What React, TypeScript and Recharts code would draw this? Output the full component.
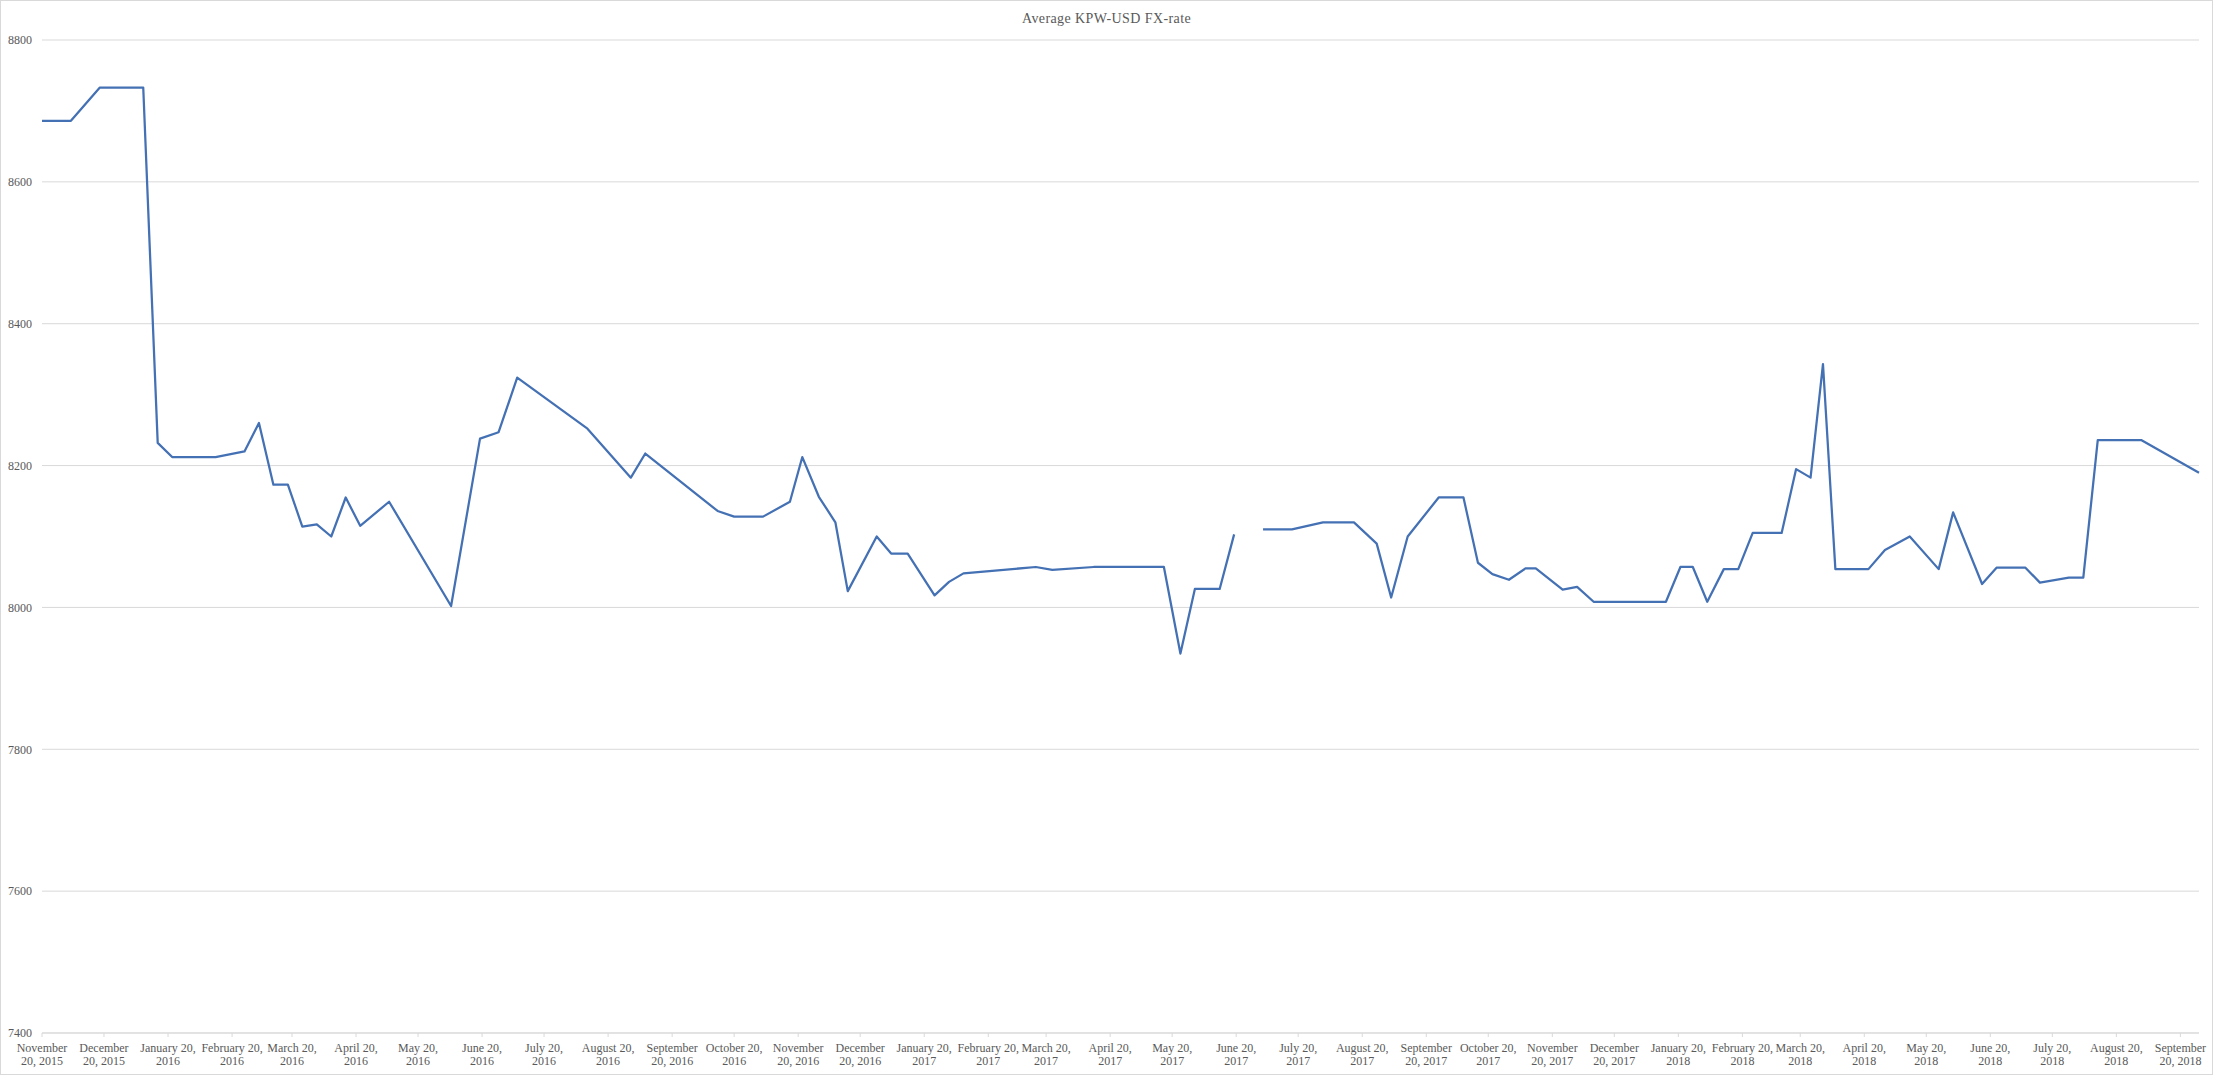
import { LineChart, Line, XAxis, YAxis, CartesianGrid } from "recharts";

// ---------------------------------------------------------------------------
// Data
// ---------------------------------------------------------------------------

const OBS_DATES = [
  "2015-11-20", "2015-12-04", "2015-12-18", "2016-01-08", "2016-01-15",
  "2016-01-22", "2016-02-12", "2016-02-26", "2016-03-04", "2016-03-11",
  "2016-03-18", "2016-03-25", "2016-04-01", "2016-04-08", "2016-04-15",
  "2016-04-22", "2016-05-06", "2016-06-05", "2016-06-19", "2016-06-28",
  "2016-07-07", "2016-08-10", "2016-08-31", "2016-09-07", "2016-10-12",
  "2016-10-20", "2016-11-03", "2016-11-16", "2016-11-22", "2016-11-30",
  "2016-12-08", "2016-12-14", "2016-12-28", "2017-01-04", "2017-01-12",
  "2017-01-25", "2017-02-01", "2017-02-08", "2017-03-15", "2017-03-23",
  "2017-04-12", "2017-05-16", "2017-05-24", "2017-05-31", "2017-06-12",
  "2017-06-19", "2017-06-26", "2017-07-03", "2017-07-17", "2017-08-01",
  "2017-08-16", "2017-08-27", "2017-09-03", "2017-09-11", "2017-09-26",
  "2017-10-08", "2017-10-15", "2017-10-22", "2017-10-30", "2017-11-07",
  "2017-11-12", "2017-11-25", "2017-12-02", "2017-12-10", "2018-01-14",
  "2018-01-21", "2018-01-27", "2018-02-03", "2018-02-11", "2018-02-18",
  "2018-02-25", "2018-03-11", "2018-03-18", "2018-03-25", "2018-03-31",
  "2018-04-06", "2018-04-22", "2018-04-30", "2018-05-12", "2018-05-26",
  "2018-06-02", "2018-06-16", "2018-06-23", "2018-07-07", "2018-07-14",
  "2018-07-28", "2018-08-04", "2018-08-11", "2018-09-01", "2018-09-29",
];

// null = missing observation (gap in the line)
const KPW_USD: (number | null)[] = [
  8686, 8686, 8733, 8733, 8232,
  8212, 8212, 8220, 8260, 8173,
  8173, 8114, 8117, 8100, 8155,
  8115, 8149, 8002, 8238, 8247,
  8324, 8252, 8183, 8217, 8136,
  8128, 8128, 8149, 8212, 8156,
  8120, 8023, 8100, 8076, 8076,
  8017, 8036, 8048, 8057, 8053,
  8057, 8057, 7935, 8026, 8026,
  8103, null, 8110, 8110, 8120,
  8120, 8090, 8014, 8100, 8155,
  8155, 8063, 8047, 8039, 8055,
  8055, 8025, 8029, 8008, 8008,
  8057, 8057, 8008, 8054, 8054,
  8105, 8105, 8195, 8183, 8343,
  8054, 8054, 8081, 8100, 8054,
  8134, 8033, 8056, 8056, 8035,
  8042, 8042, 8236, 8236, 8190,
];

const TICK_DATES = [
  "2015-11-20", "2015-12-20", "2016-01-20", "2016-02-20", "2016-03-20",
  "2016-04-20", "2016-05-20", "2016-06-20", "2016-07-20", "2016-08-20",
  "2016-09-20", "2016-10-20", "2016-11-20", "2016-12-20", "2017-01-20",
  "2017-02-20", "2017-03-20", "2017-04-20", "2017-05-20", "2017-06-20",
  "2017-07-20", "2017-08-20", "2017-09-20", "2017-10-20", "2017-11-20",
  "2017-12-20", "2018-01-20", "2018-02-20", "2018-03-20", "2018-04-20",
  "2018-05-20", "2018-06-20", "2018-07-20", "2018-08-20", "2018-09-20",
];

const Y_TICKS = [7400, 7600, 7800, 8000, 8200, 8400, 8600, 8800];

const MONTHS = [
  "January", "February", "March", "April", "May", "June",
  "July", "August", "September", "October", "November", "December",
];

// long month names wrap right after the month, the rest after "20,"
const WRAP_AFTER_MONTH = ["September", "November", "December"];

// ---------------------------------------------------------------------------
// Helpers
// ---------------------------------------------------------------------------

const DAY_MS = 86400000;
const BASE = Date.UTC(2015, 10, 20);

function toDay(iso: string) {
  const [y, m, d] = iso.split("-").map(Number);
  return Math.round((Date.UTC(y, m - 1, d) - BASE) / DAY_MS);
}

function dayLabel(day: number): [string, string] {
  const dt = new Date(BASE + day * DAY_MS);
  const month = MONTHS[dt.getUTCMonth()];
  const date = dt.getUTCDate();
  const year = dt.getUTCFullYear();
  if (WRAP_AFTER_MONTH.includes(month)) return [month, `${date}, ${year}`];
  return [`${month} ${date},`, String(year)];
}

const chartData = OBS_DATES.map((d, i) => ({ day: toDay(d), rate: KPW_USD[i] }));
const xTicks = TICK_DATES.map(toDay);

const FONT = '"Liberation Serif", "Times New Roman", serif';
const TEXT = "#595959";
const GRID = "#d9d9d9";

const W = 2213;
const H = 1075;

function DateTick(props: { x?: number; y?: number; payload?: { value: number } }) {
  const { x = 0, y = 0, payload } = props;
  if (!payload) return null;
  const [l1, l2] = dayLabel(payload.value);
  return (
    <text x={x} y={y} textAnchor="middle" fill={TEXT} fontFamily={FONT} fontSize={12}>
      <tspan x={x} dy={13}>{l1}</tspan>
      <tspan x={x} dy={13.4}>{l2}</tspan>
    </text>
  );
}

// ---------------------------------------------------------------------------
// Component
// ---------------------------------------------------------------------------

if (typeof document !== "undefined") document.body.style.margin = "0";

export default function App() {
  return (
    <div style={{ position: "relative", width: W, height: H, background: "#fff" }}>
      <div
        style={{
          position: "absolute",
          left: 0,
          top: 11,
          width: W,
          textAlign: "center",
          fontFamily: FONT,
          fontSize: 14,
          lineHeight: "16px",
          letterSpacing: 0.4,
          color: TEXT,
        }}
      >
        Average KPW-USD FX-rate
      </div>
      <LineChart
        width={W}
        height={H}
        data={chartData}
        margin={{ top: 40, right: 14, bottom: 0, left: 0 }}
      >
        <CartesianGrid horizontal vertical={false} stroke={GRID} strokeWidth={1} />
        <XAxis
          dataKey="day"
          type="number"
          domain={[0, toDay(OBS_DATES[OBS_DATES.length - 1])]}
          ticks={xTicks}
          interval={0}
          height={42}
          axisLine={{ stroke: GRID }}
          tickLine={{ stroke: GRID }}
          tickSize={4}
          tickMargin={2}
          tick={<DateTick />}
        />
        <YAxis
          type="number"
          domain={[7400, 8800]}
          ticks={Y_TICKS}
          interval={0}
          width={42}
          axisLine={false}
          tickLine={false}
          tickSize={6}
          tickMargin={4}
          tick={{ fill: TEXT, fontFamily: FONT, fontSize: 12 }}
        />
        <Line
          type="linear"
          dataKey="rate"
          stroke="#4470b4"
          strokeWidth={2.25}
          strokeLinejoin="round"
          dot={false}
          activeDot={false}
          connectNulls={false}
          isAnimationActive={false}
        />
      </LineChart>
      <div
        style={{
          position: "absolute",
          inset: 0,
          border: `1px solid ${GRID}`,
          pointerEvents: "none",
        }}
      />
    </div>
  );
}
